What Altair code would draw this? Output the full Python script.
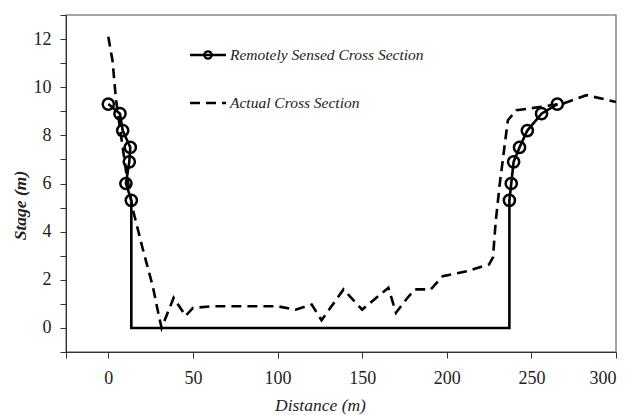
import altair as alt
import pandas as pd

# Remotely sensed cross section (ordered path)
rs_x = [0, 6.9, 8.5, 13, 12.4, 10.4, 13.6, 13.6, 237, 237, 238.1, 239.5, 243, 247.6, 256, 265.3]
rs_y = [9.3, 8.9, 8.2, 7.5, 6.9, 6.0, 5.3, 0, 0, 5.3, 6.0, 6.9, 7.5, 8.2, 8.9, 9.3]
rs_marker = [1, 1, 1, 1, 1, 1, 1, 0, 0, 1, 1, 1, 1, 1, 1, 1]

# Actual cross section
ac_x = [0, 2.5, 4.5, 7.5, 10.5, 14.4, 20.3, 26.2, 30.2, 31.5, 38.6, 45.7, 50, 62, 100,
        110.7, 120.2, 126, 139, 150, 165.5, 170, 176, 181, 190.5, 197.6, 212, 225,
        227.3, 228.9, 231.2, 234.2, 236.1, 241.1, 255, 268.7, 282.5, 300]
ac_y = [12.1, 11.1, 9.5, 8.0, 6.5, 4.95, 3.3, 1.75, 0.4, 0, 1.25, 0.5, 0.83, 0.9, 0.9,
        0.76, 0.97, 0.32, 1.6, 0.76, 1.67, 0.63, 1.18, 1.6, 1.6, 2.15, 2.36, 2.64,
        2.93, 4.4, 5.92, 7.58, 8.63, 9.04, 9.18, 9.32, 9.67, 9.39]

legend_labels = ["Remotely Sensed Cross Section", "Actual Cross Section"]

x_ticks = [-25, 0, 50, 100, 150, 200, 250, 300]
y_ticks = list(range(-1, 14))

FONT = "Liberation Serif"

rs = pd.DataFrame({"x": rs_x, "y": rs_y, "i": range(len(rs_x)), "m": rs_marker})
ac = pd.DataFrame({"x": ac_x, "y": ac_y, "i": range(len(ac_x))})

xs = alt.Scale(domain=[-25, 300], nice=False, zero=False)
ys = alt.Scale(domain=[-1, 13], nice=False, zero=False)

xaxis = alt.Axis(
    title="Distance (m)", values=x_ticks,
    labelExpr="datum.value < 0 ? '' : datum.label",
    titleX=254, titleY=58, titleBaseline="alphabetic")
yaxis = alt.Axis(
    title="Stage (m)", values=y_ticks,
    labelExpr="(datum.value >= 0 && datum.value % 2 === 0) ? datum.label : ''",
    titleX=-46, titleY=190, titleAlign="center", titleBaseline="middle", titleAngle=-90,
    titleFontWeight="bold")

X = alt.X("x:Q", scale=xs, axis=xaxis)
Y = alt.Y("y:Q", scale=ys, axis=yaxis)

actual = alt.Chart(ac).mark_line(color="black", strokeWidth=2.6, strokeDash=[10, 6]).encode(
    x=X, y=Y, order="i:Q")

rs_line = alt.Chart(rs).mark_line(color="black", strokeWidth=2.6).encode(
    x=X, y=Y, order="i:Q")

rs_pts = alt.Chart(rs).transform_filter("datum.m == 1").mark_point(
    shape="circle", filled=False, size=125, strokeWidth=2.5, color="black", opacity=1
).encode(x=X, y=Y)

# Legend (drawn in pixel space of the plot area)
leg1_line = alt.Chart().mark_rule(color="black", strokeWidth=2.6).encode(
    x=alt.value(124), x2=alt.value(160), y=alt.value(40))
leg1_pt = alt.Chart().mark_point(shape="circle", filled=False, size=55, strokeWidth=2.2,
                                 color="black", opacity=1).encode(
    x=alt.value(142), y=alt.value(40))
leg1_text = alt.Chart().mark_text(align="left", baseline="middle", font=FONT, fontSize=15.5,
                                  fontStyle="italic", color="#222").encode(
    x=alt.value(164), y=alt.value(40), text=alt.value(legend_labels[0]))
leg2_line = alt.Chart().mark_rule(color="black", strokeWidth=2.6, strokeDash=[10, 6]).encode(
    x=alt.value(124), x2=alt.value(160), y=alt.value(88))
leg2_text = alt.Chart().mark_text(align="left", baseline="middle", font=FONT, fontSize=15.5,
                                  fontStyle="italic", color="#222").encode(
    x=alt.value(164), y=alt.value(88), text=alt.value(legend_labels[1]))

chart = alt.layer(actual, rs_line, rs_pts, leg1_line, leg1_pt, leg1_text, leg2_line, leg2_text).properties(
    width=550, height=337,
    background="white",
    autosize=alt.AutoSizeParams(type="none"),
    padding={"left": 66, "top": 15, "right": 16, "bottom": 63},
).configure_view(
    stroke="#888", strokeWidth=1.5
).configure_axis(
    grid=False, tickSize=6, labelFontSize=18, titleFontSize=17.5,
    titleFontStyle="italic", titleFontWeight="normal",
    domainColor="#333", tickColor="#333", labelColor="#222", titleColor="#222",
    labelFont=FONT, titleFont=FONT, labelOverlap=False
).configure_axisX(
    labelPadding=11
).configure_axisY(
    labelPadding=9
)

chart.save("out.html", embed_options={"renderer": "svg", "actions": False})
